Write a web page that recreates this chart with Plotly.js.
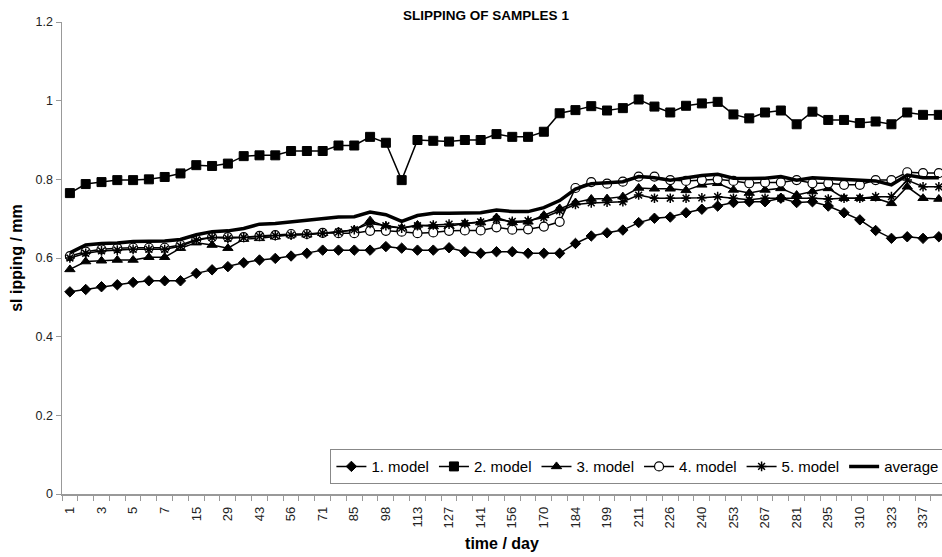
<!DOCTYPE html>
<html>
<head>
<meta charset="utf-8">
<script src="https://cdn.plot.ly/plotly-3.0.1.min.js"></script>
<style>
  html, body { margin: 0; padding: 0; background: #fff; overflow: hidden; }
  /* the original chart is cut at the right edge, so the figure is wider than the window */
  #frame { width: 942px; height: 557px; overflow: hidden; }
  #chart { width: 1000px; height: 557px; }
</style>
</head>
<body>
<div id="frame"><div id="chart"></div></div>
<script>
// measuring days (category axis, every second one is labelled)
const days = ['1','2','3','4','5','6','7','8','15','22','29','36','43','50','56','64','71','78','85','92',
  '98','106','113','120','127','134','141','148','156','163','170','177','184','192','199','205',
  '211','219','226','233','240','246','253','260','267','274','281','288','295','302','310','316',
  '323','330','337','344'];

// slipping / mm
const model1 = [0.514,0.520,0.527,0.532,0.538,0.542,0.542,0.542,0.561,0.570,0.578,0.588,0.595,0.599,0.605,0.612,0.620,0.620,
  0.620,0.620,0.629,0.625,0.620,0.620,0.626,0.616,0.612,0.616,0.616,0.612,0.612,0.612,0.637,0.656,0.664,0.671,
  0.690,0.701,0.704,0.715,0.724,0.732,0.741,0.743,0.743,0.752,0.741,0.743,0.732,0.715,0.697,0.670,0.650,0.654,0.650,0.654];
const model2 = [0.765,0.788,0.793,0.798,0.798,0.800,0.806,0.815,0.836,0.834,0.840,0.859,0.861,0.861,0.872,0.872,0.872,0.886,
  0.886,0.908,0.893,0.798,0.900,0.898,0.896,0.900,0.900,0.915,0.908,0.908,0.921,0.968,0.976,0.986,0.975,0.981,
  1.003,0.985,0.970,0.987,0.993,0.997,0.965,0.955,0.970,0.975,0.940,0.972,0.951,0.951,0.943,0.947,0.940,0.970,0.964,0.964];
const model3 = [0.571,0.591,0.593,0.595,0.595,0.602,0.602,0.625,0.639,0.633,0.625,0.648,0.650,0.654,0.659,0.659,0.663,0.667,
  0.671,0.695,0.680,0.676,0.684,0.680,0.681,0.688,0.690,0.703,0.690,0.692,0.709,0.726,0.741,0.750,0.751,0.756,
  0.778,0.776,0.776,0.772,0.786,0.790,0.773,0.765,0.773,0.777,0.760,0.769,0.777,0.752,0.752,0.752,0.739,0.781,0.752,0.750];
const model4 = [0.605,0.616,0.622,0.625,0.626,0.626,0.626,0.633,0.647,0.653,0.653,0.653,0.656,0.658,0.661,0.661,0.664,0.663,
  0.663,0.669,0.669,0.667,0.663,0.665,0.669,0.670,0.670,0.678,0.672,0.673,0.680,0.692,0.778,0.793,0.789,0.794,
  0.807,0.807,0.798,0.796,0.798,0.800,0.796,0.790,0.792,0.792,0.798,0.790,0.790,0.786,0.786,0.798,0.798,0.818,0.816,0.816];
const model5 = [0.600,0.612,0.618,0.620,0.622,0.622,0.622,0.630,0.645,0.652,0.650,0.652,0.655,0.657,0.658,0.660,0.663,0.666,
  0.672,0.688,0.682,0.676,0.682,0.684,0.686,0.688,0.692,0.698,0.693,0.695,0.703,0.720,0.736,0.740,0.742,0.743,
  0.760,0.752,0.752,0.752,0.753,0.756,0.752,0.748,0.752,0.752,0.752,0.752,0.750,0.752,0.752,0.756,0.756,0.798,0.781,0.781];
const average = [0.613,0.633,0.637,0.638,0.642,0.643,0.643,0.647,0.659,0.667,0.669,0.675,0.686,0.688,0.692,0.697,0.701,0.704,
  0.705,0.717,0.710,0.693,0.708,0.714,0.714,0.714,0.715,0.722,0.718,0.718,0.728,0.746,0.775,0.789,0.791,0.794,
  0.807,0.804,0.798,0.804,0.810,0.813,0.803,0.802,0.803,0.807,0.798,0.804,0.802,0.798,0.796,0.796,0.786,0.811,0.804,0.804];

const seriesNames = ['1. model','2. model','3. model','4. model','5. model','average'];

const FONT = 'Arial, "Liberation Sans", sans-serif';

function modelTrace(name, ys, marker) {
  return {
    x: days, y: ys, name: name, type: 'scatter', mode: 'lines+markers',
    line: { color: '#000', width: 1.5 },
    marker: Object.assign({ color: '#000', line: { color: '#000', width: 1 } }, marker),
    cliponaxis: false
  };
}

const traces = [
  modelTrace(seriesNames[0], model1, { symbol: 'diamond', size: 8 }),
  modelTrace(seriesNames[1], model2, { symbol: 'square', size: 9 }),
  modelTrace(seriesNames[2], model3, { symbol: 'triangle-up', size: 9 }),
  modelTrace(seriesNames[3], model4, { symbol: 'circle', size: 9, color: '#fff', line: { color: '#000', width: 1.2 } }),
  modelTrace(seriesNames[4], model5, { symbol: 'asterisk-open', size: 8, line: { color: '#000', width: 1.5 } }),
  { x: days, y: average, name: seriesNames[5], type: 'scatter', mode: 'lines',
    line: { color: '#000', width: 3.5 } }
];

const layout = {
  width: 1000, height: 557,
  margin: { l: 62, r: 58, t: 22, b: 63 },
  paper_bgcolor: '#fff', plot_bgcolor: '#fff',
  font: { family: FONT, color: '#000' },
  showlegend: true,
  title: {
    text: '<b>SLIPPING OF SAMPLES 1</b>',
    font: { family: FONT, size: 13.5, color: '#000' },
    xref: 'container', x: 0.486, xanchor: 'center',
    yref: 'container', y: 0.973, yanchor: 'middle'
  },
  xaxis: {
    type: 'category',
    range: [-0.5, 55.2],
    tickmode: 'linear', tick0: 0, dtick: 1, ticklabelstep: 2,
    tickson: 'boundaries',
    ticks: 'outside', ticklen: 5, tickcolor: '#999',
    ticklabelstandoff: 6,
    tickangle: -90,
    tickfont: { family: FONT, size: 13, color: '#222' },
    showline: true, linecolor: '#999', linewidth: 1.5,
    showgrid: false, zeroline: false,
    title: { text: '<b>time / day</b>', font: { family: FONT, size: 16, color: '#000' }, standoff: 10 }
  },
  yaxis: {
    range: [0, 1.2],
    tickmode: 'linear', tick0: 0, dtick: 0.2,
    ticks: 'outside', ticklen: 5, tickcolor: '#999',
    tickfont: { family: FONT, size: 12.5, color: '#222' },
    showline: true, linecolor: '#999', linewidth: 1.5,
    showgrid: false, zeroline: false,
    title: { text: '<b>sl ipping / mm</b>', font: { family: FONT, size: 16, color: '#000' }, standoff: 9 }
  },
  legend: {
    orientation: 'h',
    x: 0.305, xanchor: 'left',
    y: 0.095, yanchor: 'top',
    bgcolor: '#fff', bordercolor: '#888', borderwidth: 1,
    font: { family: FONT, size: 15, color: '#000' },
    traceorder: 'normal',
    itemwidth: 30
  }
};

Plotly.newPlot('chart', traces, layout, { staticPlot: true });
</script>
</body>
</html>
